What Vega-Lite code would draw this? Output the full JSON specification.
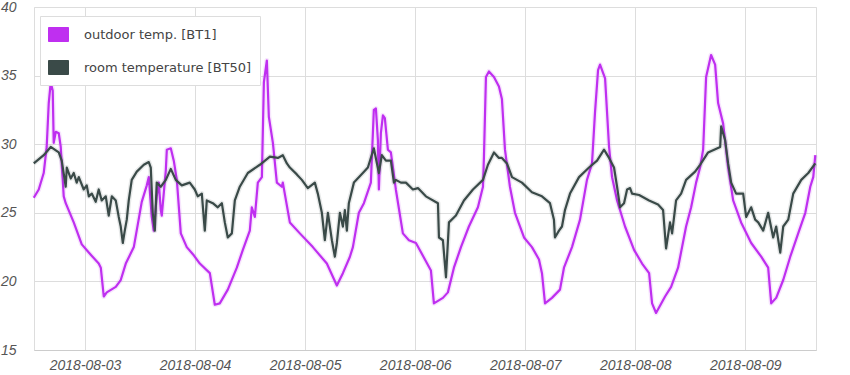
{
  "$schema": "https://vega.github.io/schema/vega-lite/v6.json",
  "width": 782,
  "height": 343,
  "autosize": "none",
  "padding": {"left": 34, "top": 7, "right": 34, "bottom": 25},
  "background": "white",
  "config": {
    "view": {"stroke": "#dddddd"},
    "axis": {
      "labelFont": "Liberation Sans",
      "labelFontStyle": "italic",
      "labelFontSize": 14,
      "labelColor": "#555555",
      "tickSize": 0,
      "gridColor": "#dddddd",
      "gridOpacity": 1,
      "title": null
    }
  },
  "datasets": {
    "outdoor": [
      {"t":"2018-08-02 12:49","v":26.1},{"t":"2018-08-02 13:54","v":26.7},{"t":"2018-08-02 14:59","v":27.9},{"t":"2018-08-02 15:38","v":29.8},{"t":"2018-08-02 16:05","v":33.0},{"t":"2018-08-02 16:31","v":34.5},{"t":"2018-08-02 16:57","v":33.9},{"t":"2018-08-02 17:10","v":30.1},{"t":"2018-08-02 17:37","v":30.9},{"t":"2018-08-02 18:16","v":30.8},{"t":"2018-08-02 18:42","v":29.8},{"t":"2018-08-02 19:21","v":26.2},{"t":"2018-08-02 19:47","v":25.7},{"t":"2018-08-02 21:32","v":24.3},{"t":"2018-08-02 23:17","v":22.7},
      {"t":"2018-08-03 00:49","v":22.1},{"t":"2018-08-03 02:59","v":21.3},{"t":"2018-08-03 03:26","v":21.0},{"t":"2018-08-03 04:05","v":18.9},{"t":"2018-08-03 04:44","v":19.2},{"t":"2018-08-03 06:42","v":19.6},{"t":"2018-08-03 07:47","v":20.1},{"t":"2018-08-03 08:53","v":21.3},{"t":"2018-08-03 10:38","v":22.5},{"t":"2018-08-03 12:22","v":25.8},{"t":"2018-08-03 13:28","v":27.0},{"t":"2018-08-03 13:54","v":27.6},{"t":"2018-08-03 14:33","v":24.7},{"t":"2018-08-03 14:59","v":23.7},{"t":"2018-08-03 15:38","v":26.2},{"t":"2018-08-03 16:05","v":27.2},{"t":"2018-08-03 16:31","v":25.2},{"t":"2018-08-03 16:44","v":24.8},{"t":"2018-08-03 17:37","v":28.1},{"t":"2018-08-03 17:50","v":29.6},{"t":"2018-08-03 18:42","v":29.7},{"t":"2018-08-03 19:21","v":28.8},{"t":"2018-08-03 20:01","v":27.4},{"t":"2018-08-03 20:53","v":23.5},{"t":"2018-08-03 22:11","v":22.5},{"t":"2018-08-03 23:43","v":21.9},
      {"t":"2018-08-04 01:02","v":21.3},{"t":"2018-08-04 03:13","v":20.6},{"t":"2018-08-04 04:18","v":18.3},{"t":"2018-08-04 05:23","v":18.4},{"t":"2018-08-04 07:08","v":19.4},{"t":"2018-08-04 09:06","v":21.0},{"t":"2018-08-04 10:25","v":22.3},{"t":"2018-08-04 11:56","v":23.7},{"t":"2018-08-04 12:22","v":25.4},{"t":"2018-08-04 13:02","v":24.7},{"t":"2018-08-04 13:41","v":27.2},{"t":"2018-08-04 14:34","v":27.6},{"t":"2018-08-04 15:00","v":34.5},{"t":"2018-08-04 15:39","v":36.1},{"t":"2018-08-04 16:05","v":32.0},{"t":"2018-08-04 16:58","v":30.1},{"t":"2018-08-04 17:50","v":27.2},{"t":"2018-08-04 18:55","v":26.9},{"t":"2018-08-04 19:08","v":27.2},{"t":"2018-08-04 20:40","v":24.3},{"t":"2018-08-04 22:51","v":23.5},
      {"t":"2018-08-05 01:41","v":22.5},{"t":"2018-08-05 04:44","v":21.3},{"t":"2018-08-05 06:55","v":19.7},{"t":"2018-08-05 08:14","v":20.6},{"t":"2018-08-05 09:46","v":21.8},{"t":"2018-08-05 10:25","v":22.5},{"t":"2018-08-05 11:43","v":25.0},{"t":"2018-08-05 12:49","v":25.7},{"t":"2018-08-05 14:20","v":27.2},{"t":"2018-08-05 14:59","v":32.5},{"t":"2018-08-05 15:26","v":32.6},{"t":"2018-08-05 15:52","v":30.3},{"t":"2018-08-05 16:05","v":26.7},{"t":"2018-08-05 16:31","v":30.8},{"t":"2018-08-05 16:58","v":32.1},{"t":"2018-08-05 17:23","v":31.9},{"t":"2018-08-05 18:03","v":29.6},{"t":"2018-08-05 18:42","v":29.4},{"t":"2018-08-05 19:47","v":26.7},{"t":"2018-08-05 21:19","v":23.5},{"t":"2018-08-05 22:38","v":23.0},
      {"t":"2018-08-06 00:10","v":22.8},{"t":"2018-08-06 03:26","v":20.8},{"t":"2018-08-06 04:05","v":18.4},{"t":"2018-08-06 06:03","v":18.8},{"t":"2018-08-06 07:08","v":19.2},{"t":"2018-08-06 08:27","v":21.0},{"t":"2018-08-06 09:59","v":22.5},{"t":"2018-08-06 11:43","v":24.0},{"t":"2018-08-06 13:41","v":25.4},{"t":"2018-08-06 14:47","v":26.9},{"t":"2018-08-06 15:00","v":29.1},{"t":"2018-08-06 15:26","v":34.9},{"t":"2018-08-06 16:05","v":35.3},{"t":"2018-08-06 17:11","v":34.9},{"t":"2018-08-06 18:16","v":34.2},{"t":"2018-08-06 18:55","v":33.3},{"t":"2018-08-06 19:35","v":29.6},{"t":"2018-08-06 20:40","v":26.9},{"t":"2018-08-06 21:46","v":25.0},{"t":"2018-08-06 23:44","v":23.2},
      {"t":"2018-08-07 01:28","v":22.5},{"t":"2018-08-07 03:00","v":21.6},{"t":"2018-08-07 03:39","v":20.6},{"t":"2018-08-07 04:19","v":18.4},{"t":"2018-08-07 05:50","v":18.8},{"t":"2018-08-07 07:35","v":19.4},{"t":"2018-08-07 08:27","v":21.0},{"t":"2018-08-07 10:12","v":22.5},{"t":"2018-08-07 11:57","v":24.5},{"t":"2018-08-07 13:28","v":27.4},{"t":"2018-08-07 14:34","v":28.6},{"t":"2018-08-07 15:13","v":32.3},{"t":"2018-08-07 15:53","v":35.4},{"t":"2018-08-07 16:19","v":35.8},{"t":"2018-08-07 17:25","v":34.8},{"t":"2018-08-07 18:17","v":29.8},{"t":"2018-08-07 18:56","v":27.6},{"t":"2018-08-07 20:02","v":25.9},{"t":"2018-08-07 21:46","v":24.0},{"t":"2018-08-07 23:44","v":22.3},
      {"t":"2018-08-08 01:29","v":21.3},{"t":"2018-08-08 03:01","v":20.6},{"t":"2018-08-08 03:40","v":18.4},{"t":"2018-08-08 04:32","v":17.7},{"t":"2018-08-08 06:30","v":18.9},{"t":"2018-08-08 07:49","v":19.6},{"t":"2018-08-08 09:20","v":21.0},{"t":"2018-08-08 11:05","v":24.0},{"t":"2018-08-08 12:11","v":25.4},{"t":"2018-08-08 13:16","v":27.2},{"t":"2018-08-08 14:08","v":28.3},{"t":"2018-08-08 14:48","v":29.6},{"t":"2018-08-08 15:27","v":34.9},{"t":"2018-08-08 16:32","v":36.5},{"t":"2018-08-08 17:25","v":35.8},{"t":"2018-08-08 18:04","v":33.0},{"t":"2018-08-08 19:10","v":31.5},{"t":"2018-08-08 20:15","v":28.3},{"t":"2018-08-08 21:21","v":25.9},{"t":"2018-08-08 23:05","v":24.3},
      {"t":"2018-08-09 01:17","v":22.8},{"t":"2018-08-09 03:28","v":21.8},{"t":"2018-08-09 04:59","v":21.0},{"t":"2018-08-09 05:39","v":18.4},{"t":"2018-08-09 06:44","v":18.8},{"t":"2018-08-09 08:16","v":20.1},{"t":"2018-08-09 09:48","v":21.8},{"t":"2018-08-09 11:32","v":23.5},{"t":"2018-08-09 13:05","v":25.0},{"t":"2018-08-09 14:10","v":26.9},{"t":"2018-08-09 14:49","v":27.6},{"t":"2018-08-09 15:16","v":29.2}
    ],
    "room": [
      {"t":"2018-08-02 12:49","v":28.6},{"t":"2018-08-02 14:59","v":29.2},{"t":"2018-08-02 16:31","v":29.8},{"t":"2018-08-02 18:16","v":29.4},{"t":"2018-08-02 18:55","v":28.8},{"t":"2018-08-02 19:47","v":26.9},{"t":"2018-08-02 20:01","v":28.3},{"t":"2018-08-02 20:53","v":27.5},{"t":"2018-08-02 21:32","v":27.9},{"t":"2018-08-02 22:11","v":27.2},{"t":"2018-08-02 22:38","v":27.6},{"t":"2018-08-02 23:43","v":26.7},
      {"t":"2018-08-03 00:22","v":27.0},{"t":"2018-08-03 00:49","v":26.2},{"t":"2018-08-03 01:28","v":26.4},{"t":"2018-08-03 02:20","v":25.8},{"t":"2018-08-03 02:59","v":26.7},{"t":"2018-08-03 03:38","v":25.9},{"t":"2018-08-03 04:31","v":26.2},{"t":"2018-08-03 05:10","v":24.8},{"t":"2018-08-03 05:50","v":26.2},{"t":"2018-08-03 06:42","v":25.9},{"t":"2018-08-03 07:21","v":24.7},{"t":"2018-08-03 07:47","v":24.0},{"t":"2018-08-03 08:14","v":22.8},{"t":"2018-08-03 08:40","v":23.7},{"t":"2018-08-03 09:06","v":24.5},{"t":"2018-08-03 09:32","v":25.9},{"t":"2018-08-03 10:11","v":27.4},{"t":"2018-08-03 11:17","v":28.0},{"t":"2018-08-03 12:49","v":28.5},{"t":"2018-08-03 13:54","v":28.7},{"t":"2018-08-03 14:20","v":28.3},{"t":"2018-08-03 14:46","v":25.0},{"t":"2018-08-03 15:13","v":23.7},{"t":"2018-08-03 15:38","v":27.2},{"t":"2018-08-03 16:31","v":26.9},{"t":"2018-08-03 17:37","v":27.4},{"t":"2018-08-03 18:42","v":28.2},{"t":"2018-08-03 19:47","v":27.4},{"t":"2018-08-03 21:06","v":27.0},{"t":"2018-08-03 22:50","v":27.2},{"t":"2018-08-03 23:56","v":26.7},
      {"t":"2018-08-04 00:35","v":26.2},{"t":"2018-08-04 01:28","v":26.4},{"t":"2018-08-04 02:07","v":23.7},{"t":"2018-08-04 02:33","v":25.9},{"t":"2018-08-04 03:52","v":25.7},{"t":"2018-08-04 04:57","v":25.4},{"t":"2018-08-04 05:50","v":25.7},{"t":"2018-08-04 06:29","v":24.3},{"t":"2018-08-04 07:08","v":23.2},{"t":"2018-08-04 08:01","v":23.5},{"t":"2018-08-04 08:40","v":25.9},{"t":"2018-08-04 09:45","v":26.9},{"t":"2018-08-04 11:30","v":27.9},{"t":"2018-08-04 14:07","v":28.5},{"t":"2018-08-04 16:19","v":29.1},{"t":"2018-08-04 18:03","v":29.0},{"t":"2018-08-04 19:08","v":29.2},{"t":"2018-08-04 20:01","v":28.6},{"t":"2018-08-04 20:40","v":28.3},{"t":"2018-08-04 22:11","v":27.8},{"t":"2018-08-04 23:17","v":27.4},
      {"t":"2018-08-05 00:35","v":26.8},{"t":"2018-08-05 02:07","v":27.2},{"t":"2018-08-05 02:46","v":26.4},{"t":"2018-08-05 03:39","v":25.0},{"t":"2018-08-05 04:18","v":23.0},{"t":"2018-08-05 04:58","v":25.0},{"t":"2018-08-05 05:50","v":23.0},{"t":"2018-08-05 06:29","v":21.8},{"t":"2018-08-05 06:55","v":22.8},{"t":"2018-08-05 07:35","v":25.0},{"t":"2018-08-05 08:14","v":24.0},{"t":"2018-08-05 08:40","v":25.2},{"t":"2018-08-05 09:06","v":23.7},{"t":"2018-08-05 09:32","v":25.7},{"t":"2018-08-05 10:38","v":27.2},{"t":"2018-08-05 12:35","v":27.9},{"t":"2018-08-05 13:41","v":28.3},{"t":"2018-08-05 14:59","v":29.7},{"t":"2018-08-05 16:05","v":27.9},{"t":"2018-08-05 16:44","v":29.2},{"t":"2018-08-05 17:37","v":28.8},{"t":"2018-08-05 18:42","v":28.8},{"t":"2018-08-05 19:22","v":27.2},{"t":"2018-08-05 19:47","v":27.4},{"t":"2018-08-05 20:53","v":27.2},{"t":"2018-08-05 21:59","v":27.2},{"t":"2018-08-05 23:30","v":26.7},
      {"t":"2018-08-06 00:36","v":26.8},{"t":"2018-08-06 02:20","v":26.2},{"t":"2018-08-06 04:58","v":25.7},{"t":"2018-08-06 05:11","v":23.2},{"t":"2018-08-06 06:03","v":23.0},{"t":"2018-08-06 06:43","v":20.3},{"t":"2018-08-06 07:22","v":24.3},{"t":"2018-08-06 08:53","v":24.8},{"t":"2018-08-06 10:38","v":25.9},{"t":"2018-08-06 12:36","v":26.7},{"t":"2018-08-06 14:47","v":27.4},{"t":"2018-08-06 15:52","v":28.5},{"t":"2018-08-06 17:11","v":29.4},{"t":"2018-08-06 18:16","v":29.0},{"t":"2018-08-06 18:55","v":29.0},{"t":"2018-08-06 20:01","v":28.6},{"t":"2018-08-06 21:07","v":27.6},{"t":"2018-08-06 23:17","v":27.2},
      {"t":"2018-08-07 01:28","v":26.5},{"t":"2018-08-07 03:39","v":26.2},{"t":"2018-08-07 05:24","v":25.7},{"t":"2018-08-07 06:16","v":24.5},{"t":"2018-08-07 06:29","v":23.2},{"t":"2018-08-07 07:22","v":23.7},{"t":"2018-08-07 08:01","v":24.0},{"t":"2018-08-07 08:40","v":25.2},{"t":"2018-08-07 09:46","v":26.4},{"t":"2018-08-07 11:44","v":27.6},{"t":"2018-08-07 13:55","v":28.3},{"t":"2018-08-07 15:40","v":28.8},{"t":"2018-08-07 17:11","v":29.6},{"t":"2018-08-07 18:17","v":29.0},{"t":"2018-08-07 19:22","v":28.3},{"t":"2018-08-07 20:02","v":26.9},{"t":"2018-08-07 20:41","v":25.4},{"t":"2018-08-07 21:33","v":25.7},{"t":"2018-08-07 22:13","v":26.7},{"t":"2018-08-07 22:52","v":26.8},{"t":"2018-08-07 23:18","v":26.4},
      {"t":"2018-08-08 00:50","v":26.3},{"t":"2018-08-08 03:01","v":25.9},{"t":"2018-08-08 04:58","v":25.6},{"t":"2018-08-08 06:04","v":25.2},{"t":"2018-08-08 06:43","v":22.4},{"t":"2018-08-08 07:35","v":24.3},{"t":"2018-08-08 08:02","v":23.5},{"t":"2018-08-08 08:54","v":25.9},{"t":"2018-08-08 10:00","v":26.4},{"t":"2018-08-08 11:05","v":27.4},{"t":"2018-08-08 13:03","v":28.0},{"t":"2018-08-08 14:08","v":28.5},{"t":"2018-08-08 15:53","v":29.4},{"t":"2018-08-08 18:31","v":29.8},{"t":"2018-08-08 18:44","v":31.3},{"t":"2018-08-08 19:36","v":30.3},{"t":"2018-08-08 20:15","v":28.6},{"t":"2018-08-08 20:55","v":27.2},{"t":"2018-08-08 22:00","v":26.4},{"t":"2018-08-08 23:32","v":26.4},
      {"t":"2018-08-09 00:11","v":24.7},{"t":"2018-08-09 01:17","v":25.4},{"t":"2018-08-09 02:09","v":24.5},{"t":"2018-08-09 02:49","v":24.3},{"t":"2018-08-09 03:54","v":23.7},{"t":"2018-08-09 04:59","v":25.0},{"t":"2018-08-09 06:05","v":23.2},{"t":"2018-08-09 06:44","v":24.0},{"t":"2018-08-09 07:37","v":22.1},{"t":"2018-08-09 08:16","v":24.0},{"t":"2018-08-09 09:22","v":24.5},{"t":"2018-08-09 10:27","v":26.4},{"t":"2018-08-09 12:12","v":27.4},{"t":"2018-08-09 13:44","v":27.9},{"t":"2018-08-09 15:16","v":28.6}
    ]
  },
  "encoding": {
    "x": {
      "field": "t",
      "type": "temporal",
      "scale": {
        "domain": [
          {"year": 2018, "month": 8, "date": 2, "hours": 12, "minutes": 52},
          {"year": 2018, "month": 8, "date": 9, "hours": 15, "minutes": 25}
        ]
      },
      "axis": {
        "format": "%Y-%m-%d",
        "tickCount": {"interval": "day", "step": 1},
        "labelPadding": 8,
        "domain": true,
        "domainColor": "#cccccc",
        "labelFlush": false,
        "labelOverlap": false
      }
    },
    "y": {
      "field": "v",
      "type": "quantitative",
      "scale": {"domain": [15, 40], "nice": false, "zero": false},
      "axis": {"values": [15, 20, 25, 30, 35, 40], "labelPadding": 18, "domain": false}
    },
    "color": {
      "scale": {
        "domain": ["outdoor temp. [BT1]", "room temperature [BT50]"],
        "range": ["#bf2ff0", "#3a4a48"]
      },
      "legend": {
        "orient": "none",
        "legendX": 6,
        "legendY": 9,
        "title": null,
        "symbolType": "M-1,-0.7H1V0.7H-1Z",
        "symbolSize": 400,
        "labelFont": "DejaVu Sans",
        "labelFontSize": 13,
        "labelColor": "#444444",
        "labelLimit": 400,
        "labelOffset": 15,
        "rowPadding": 13,
        "padding": 8,
        "strokeColor": "#dddddd",
        "fillColor": "white",
        "direction": "vertical",
        "encode": {
          "symbols": {
            "update": {
              "fill": {"scale": "color", "field": "value"},
              "stroke": {"value": "#cccccc"},
              "strokeWidth": {"value": 1},
              "opacity": {"value": 1}
            }
          }
        }
      }
    }
  },
  "layer": [
    {
      "data": {"name": "outdoor"},
      "mark": {"type": "line", "strokeWidth": 5, "opacity": 0.12, "strokeJoin": "round"},
      "encoding": {"color": {"datum": "outdoor temp. [BT1]"}}
    },
    {
      "data": {"name": "outdoor"},
      "mark": {"type": "line", "strokeWidth": 2.2, "strokeJoin": "round"},
      "encoding": {"color": {"datum": "outdoor temp. [BT1]"}}
    },
    {
      "data": {"name": "room"},
      "mark": {"type": "line", "strokeWidth": 5, "opacity": 0.12, "strokeJoin": "round"},
      "encoding": {"color": {"datum": "room temperature [BT50]"}}
    },
    {
      "data": {"name": "room"},
      "mark": {"type": "line", "strokeWidth": 2.2, "strokeJoin": "round"},
      "encoding": {"color": {"datum": "room temperature [BT50]"}}
    }
  ]
}
